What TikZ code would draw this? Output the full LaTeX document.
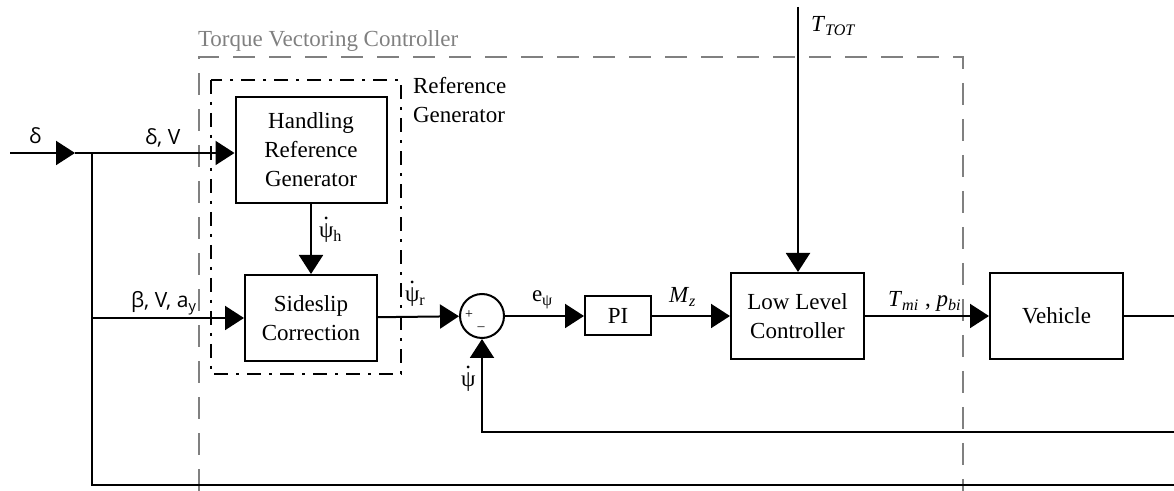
\documentclass[tikz,border=0pt]{standalone}
\usepackage{fontspec}
\setmainfont{Liberation Serif}
\newfontfamily\sigfont{Open Sans}
\usetikzlibrary{shapes,arrows,arrows.meta,positioning,calc}
\newcommand{\psid}{{\ooalign{ψ\cr\hfil\raisebox{0.8em}{\smash{.}}\hfil\cr}}}

\begin{document}
\begin{tikzpicture}[x=0.5pt,y=-0.5pt,
    >={Triangle[length=9.5pt,width=12pt]},line width=1pt,
    block/.style={rectangle,draw,align=center,inner sep=0pt,font=\fontsize{11.5}{14.5}\selectfont},
    sumnode/.style={circle,draw,minimum size=22pt,inner sep=0pt},
    sig/.style={font=\sigfont\fontsize{10.5}{12}\selectfont,inner sep=0pt,anchor=base west},
    lab/.style={font=\fontsize{11.5}{14.5}\selectfont,inner sep=0pt,anchor=base west}]
    \useasboundingbox (0,0) rectangle (1174,491);

    % blocks
    \node[block,minimum width=75.5pt,minimum height=53pt] (HRG) at (311,150) {Handling\\Reference\\Generator};
    \node[block,minimum width=66pt,minimum height=43pt] (SC) [below=35pt of HRG] {Sideslip\\Correction};
    \node[sumnode] (sum) at (482,316) {};
    \node[block,minimum width=33pt,minimum height=19.5pt] (PI) at (618,316) {PI};
    \node[block,minimum width=66.5pt,minimum height=43pt] (LLC) at (797.5,316) {Low Level\\Controller};
    \node[block,minimum width=66.5pt,minimum height=43pt] (veh) [right=62pt of LLC] {Vehicle};

    % free ends
    \coordinate (din) at (10,153);
    \coordinate (dtip) at (75,153);
    \coordinate (jtop) at (92,153);
    \coordinate (jbot) at (92,485);
    \coordinate (bend) at (1174,485);
    \coordinate (yout) at (1174,316);
    \coordinate (fbin) at (1174,432);
    \coordinate (ttot) at (798,7);

    % frames
    \draw[gray,line width=0.8pt,dash pattern=on 11pt off 7pt] (199,491) |- (963,57) -- (963,491);
    \draw[dash pattern=on 7pt off 4pt on 1.5pt off 4pt] (211,80) rectangle (401,374);
    \node[lab,text=gray] (tvc) at (197,47) {Torque Vectoring Controller};
    \node[lab,align=left,anchor=north west] (rg) at (412,76) {Reference\\Generator};

    % signals
    \draw[->] (din) -- (dtip);
    \draw[->] (dtip) -- (jtop -| HRG.west);
    \draw[->] (jtop) |- (SC.west);
    \draw (jtop) -- (jbot) -- (bend);
    \draw[->] (HRG) -- (SC);
    \draw[->] (SC) -- (sum);
    \draw[->] (sum) -- (PI);
    \draw[->] (PI) -- (LLC);
    \draw[->] (ttot) -- (ttot |- LLC.north);
    \draw[->] (LLC) -- (veh);
    \draw (veh) -- (yout);
    \draw[->] (fbin) -| (sum.south);

    % labels
    \node[sig] (ld) at (28,144) {δ};
    \node[sig] (ldv) at (144,145) {δ, V};
    \node[sig] (lbv) at (130,308) {β, V, a\textsubscript{y}};
    \node[lab] (lph) at (318,238) {\psid\textsubscript{h}};
    \node[lab] (lpr) at (404,302) {\psid\textsubscript{r}};
    \node[lab] (lp) at (460,387) {\psid};
    \node[lab] (le) at (531,302) {e\textsubscript{ψ}};
    \node[lab] (lm) at (668,303) {\textit{M}\textsubscript{\textit{z}}};
    \node[lab] (lt) at (887,307) {\textit{T}\textsubscript{\textit{mi}} , \textit{p}\textsubscript{\textit{bi}}};
    \node[lab] (ltt) at (810,32) {\textit{T}\textsubscript{\textit{TOT}}};
    \node[font=\fontsize{7}{8}\selectfont,inner sep=0pt] (plus) at (469,315) {+};
    \node[font=\fontsize{7}{8}\selectfont,inner sep=0pt] (minus) at (481,329) {–};
\end{tikzpicture}
\end{document}
